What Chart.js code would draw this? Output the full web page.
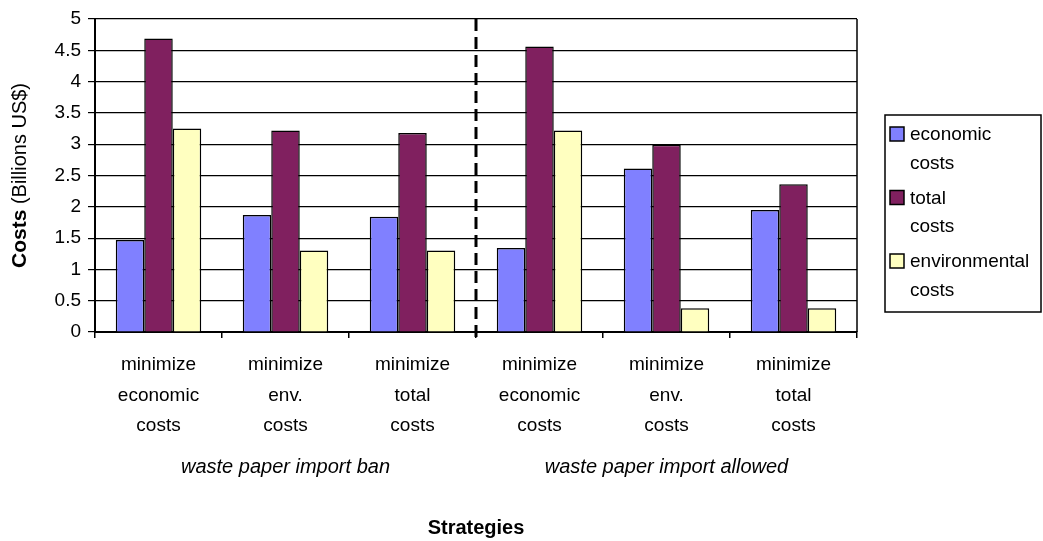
<!DOCTYPE html>
<html>
<head>
<meta charset="utf-8">
<script src="https://cdn.jsdelivr.net/npm/chart.js@4/dist/chart.umd.min.js"></script>
<style>
  body { margin: 0; background: #fff; }
  canvas { display: block; }
</style>
</head>
<body>
<canvas id="myBarChart" width="1043" height="541"></canvas>
<script>
// chart data
var strategies = [
  ["minimize", "economic", "costs"],
  ["minimize", "env.", "costs"],
  ["minimize", "total", "costs"],
  ["minimize", "economic", "costs"],
  ["minimize", "env.", "costs"],
  ["minimize", "total", "costs"]
];
var economicCosts = [1.47, 1.87, 1.84, 1.34, 2.61, 1.95];
var totalCosts = [4.69, 3.22, 3.18, 4.56, 2.99, 2.36];
var environmentalCosts = [3.25, 1.30, 1.30, 3.22, 0.38, 0.38];
var seriesNames = [["economic", "costs"], ["total", "costs"], ["environmental", "costs"]];
var groupNames = ["waste paper import ban", "waste paper import allowed"];
var groupSpans = [[0, 2], [3, 5]];
var yTicks = [0, 0.5, 1, 1.5, 2, 2.5, 3, 3.5, 4, 4.5, 5];

var FONT = "'Liberation Sans', Arial, sans-serif";
var FS = 19;

// extra text, legend, dashed divider and plot frame
var decorations = {
  id: "decorations",
  afterDraw: function(chart) {
    var ctx = chart.ctx;
    var area = chart.chartArea;
    var xs = chart.scales.x;
    ctx.save();

    // right edge of plot area
    ctx.strokeStyle = "#000";
    ctx.lineWidth = 1.5;
    ctx.beginPath();
    ctx.moveTo(area.right, area.top);
    ctx.lineTo(area.right, area.bottom);
    ctx.stroke();

    // dashed divider between the two groups
    var half = (xs.getPixelForValue(1) - xs.getPixelForValue(0)) / 2;
    var divX = xs.getPixelForValue(groupSpans[0][1]) + half;
    ctx.setLineDash([12, 6]);
    ctx.lineWidth = 3;
    ctx.beginPath();
    ctx.moveTo(divX, area.top);
    ctx.lineTo(divX, area.bottom + 6);
    ctx.stroke();
    ctx.setLineDash([]);

    // group labels
    ctx.fillStyle = "#000";
    ctx.textAlign = "center";
    ctx.textBaseline = "middle";
    ctx.font = "italic 20px " + FONT;
    groupNames.forEach(function(name, i) {
      var a = xs.getPixelForValue(groupSpans[i][0]) - half;
      var b = xs.getPixelForValue(groupSpans[i][1]) + half;
      ctx.fillText(name, (a + b) / 2, 467);
    });

    // x axis title
    ctx.font = "bold 20px " + FONT;
    ctx.fillText("Strategies", (area.left + area.right) / 2, 528);

    // y axis title, "Costs" bold and the unit plain
    ctx.translate(20, (area.top + area.bottom) / 2);
    ctx.rotate(-Math.PI / 2);
    ctx.font = "bold 21px " + FONT;
    var t1 = "Costs";
    var w1 = ctx.measureText(t1).width;
    ctx.font = "20px " + FONT;
    var t2 = " (Billions US$)";
    var w2 = ctx.measureText(t2).width;
    var x0 = -(w1 + w2) / 2;
    ctx.textAlign = "left";
    ctx.font = "bold 21px " + FONT;
    ctx.fillText(t1, x0, 0);
    ctx.font = "20px " + FONT;
    ctx.fillText(t2, x0 + w1, 0);
    ctx.setTransform(1, 0, 0, 1, 0, 0);

    // legend box
    var lx = 885, ly = 115;
    ctx.lineWidth = 1.5;
    ctx.strokeRect(lx, ly, 156, 197);
    ctx.font = FS + "px " + FONT;
    ctx.textAlign = "left";
    chart.data.datasets.forEach(function(ds, i) {
      var cy = 135 + i * 63.5;
      ctx.fillStyle = ds.backgroundColor;
      ctx.fillRect(lx + 5, cy - 8, 14, 14);
      ctx.strokeStyle = "#000";
      ctx.lineWidth = 1.5;
      ctx.strokeRect(lx + 5, cy - 8, 14, 14);
      ctx.fillStyle = "#000";
      seriesNames[i].forEach(function(line, j) {
        ctx.fillText(line, lx + 25, cy + j * 28.5);
      });
    });

    ctx.restore();
  }
};

var ctx1 = document.getElementById("myBarChart").getContext("2d");
var myBarChart = new Chart(ctx1, {
  type: "bar",
  data: {
    labels: strategies,
    datasets: [
      { label: "economic costs", data: economicCosts, backgroundColor: "#8080FF" },
      { label: "total costs", data: totalCosts, backgroundColor: "#80205F" },
      { label: "environmental costs", data: environmentalCosts, backgroundColor: "#FFFFC0" }
    ]
  },
  options: {
    responsive: false,
    animation: false,
    devicePixelRatio: 1,
    layout: { padding: { left: 0, right: 186, top: 19, bottom: 0 } },
    datasets: {
      bar: {
        borderColor: "#000",
        borderWidth: 1.5,
        categoryPercentage: 0.673,
        barPercentage: 1.0
      }
    },
    plugins: {
      legend: { display: false },
      tooltip: { enabled: false }
    },
    scales: {
      x: {
        offset: true,
        afterFit: function(scale) { scale.height = 209; },
        grid: {
          offset: true,
          drawOnChartArea: false,
          drawTicks: true,
          tickLength: 6,
          color: "#000",
          lineWidth: 1.5
        },
        border: { color: "#000", width: 2 },
        ticks: {
          color: "#000",
          font: { family: FONT, size: FS, lineHeight: 1.6 },
          padding: 12,
          maxRotation: 0,
          autoSkip: false
        }
      },
      y: {
        min: 0,
        max: 5,
        afterFit: function(scale) { scale.width = 95; },
        afterBuildTicks: function(scale) {
          scale.ticks = yTicks.map(function(v) { return { value: v }; });
        },
        grid: {
          color: "#000",
          lineWidth: 1.2,
          drawTicks: true,
          tickLength: 7
        },
        border: { color: "#000", width: 2 },
        ticks: {
          color: "#000",
          font: { family: FONT, size: FS },
          padding: 7,
          callback: function(value) { return String(value); }
        }
      }
    }
  },
  plugins: [decorations]
});
</script>
</body>
</html>
